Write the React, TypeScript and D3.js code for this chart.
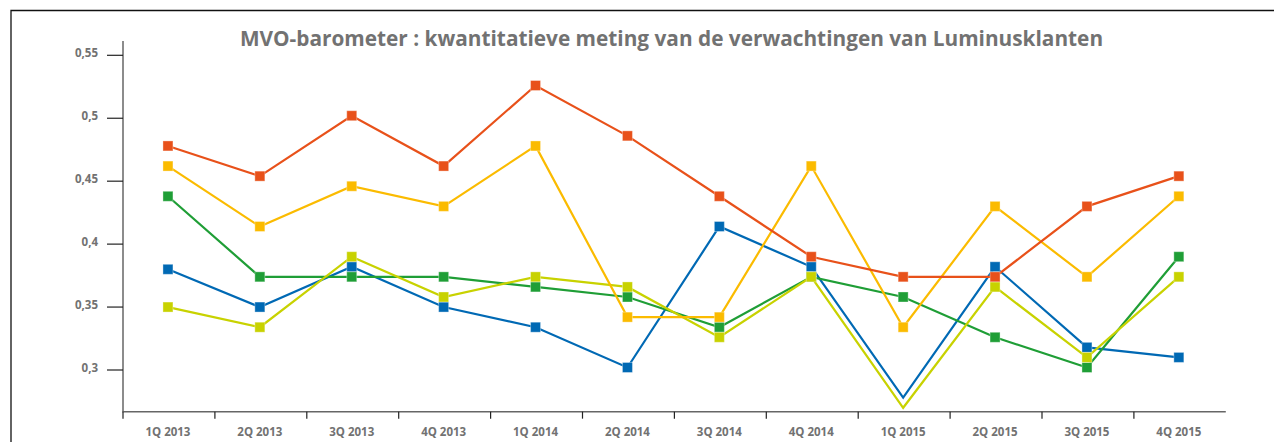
import React from "react";
import * as d3 from "d3";

const title = "MVO-barometer : kwantitatieve meting van de verwachtingen van Luminusklanten";
const categories = ["1Q 2013","2Q 2013","3Q 2013","4Q 2013","1Q 2014","2Q 2014","3Q 2014","4Q 2014","1Q 2015","2Q 2015","3Q 2015","4Q 2015"];
const yTicks = [0.3, 0.35, 0.4, 0.45, 0.5, 0.55];

const blueValues = [0.38, 0.35, 0.382, 0.35, 0.334, 0.302, 0.414, 0.382, 0.278, 0.382, 0.318, 0.31];
const greenValues = [0.438, 0.374, 0.374, 0.374, 0.366, 0.358, 0.334, 0.374, 0.358, 0.326, 0.302, 0.39];
const limeValues = [0.35, 0.334, 0.39, 0.358, 0.374, 0.366, 0.326, 0.374, 0.27, 0.366, 0.31, 0.374];
const goldValues = [0.462, 0.414, 0.446, 0.43, 0.478, 0.342, 0.342, 0.462, 0.334, 0.43, 0.374, 0.438];
const orangeValues = [0.478, 0.454, 0.502, 0.462, 0.526, 0.486, 0.438, 0.39, 0.374, 0.374, 0.43, 0.454];

const series = [
  { name: "blue", color: "#0069b4", values: blueValues },
  { name: "green", color: "#1f9e36", values: greenValues },
  { name: "lime", color: "#c8d200", values: limeValues },
  { name: "gold", color: "#fbbb00", values: goldValues },
  { name: "orange", color: "#e8511a", values: orangeValues },
];

const W = 1274, H = 442;
const font = "'Open Sans', 'DejaVu Sans', sans-serif";
const grey = "#727272";

export default function App() {
  const x = d3.scaleBand<string>().domain(categories).range([123, 1225.8]);
  const y = d3.scaleLinear().domain([0.3, 0.55]).range([370, 55.3]);
  const axisTop = y(0.5614);
  const axisBottom = y(0.2669);
  const cx = (c: string) => (x(c) as number) + x.bandwidth() / 2 - 1;
  const line = d3.line<number>().x((_, i) => cx(categories[i])).y((v) => y(v));
  const ms = 10;

  return (
    <svg width={W} height={H} style={{ position: "absolute", left: 0, top: 0, background: "#fff" }}>
      <path d={`M11,${H} V10.5 H${W}`} fill="none" stroke="#111" strokeWidth={1.3} />
      <text x={671.5} y={45.5} textAnchor="middle" fontFamily={font} fontWeight="bold" fontSize={20.8} fill={grey}>{title}</text>

      {/* y axis */}
      <line x1={123} x2={123} y1={axisTop} y2={axisBottom} stroke="#666" strokeWidth={1.5} />
      {yTicks.map((t) => (
        <g key={t}>
          <line x1={107} x2={123} y1={y(t)} y2={y(t)} stroke="#222" strokeWidth={1.2} />
          <text x={98} y={y(t) + 2} textAnchor="end" fontFamily={font} fontWeight="bold" fontSize={11.5} fill={grey}>
            {d3.format("")(t).replace(".", ",")}
          </text>
        </g>
      ))}

      {/* x axis */}
      <line x1={122.3} x2={1225.8} y1={axisBottom} y2={axisBottom} stroke="#666" strokeWidth={1.5} />
      {categories.map((c) => (
        <g key={c}>
          <line x1={x(c)} x2={x(c)} y1={axisBottom} y2={axisBottom + 7} stroke="#222" strokeWidth={1.2} />
          <text x={cx(c)} y={435.5} textAnchor="middle" fontFamily={font} fontWeight="bold" fontSize={11.5} fill={grey}>{c}</text>
        </g>
      ))}

      {series.map((s) => (
        <g key={s.name}>
          <path d={line(s.values) || ""} fill="none" stroke={s.color} strokeWidth={2.2} strokeLinejoin="miter" />
          {s.values.map((v, i) =>
            v < 0.29 ? null : (
              <rect key={i} x={cx(categories[i]) - ms / 2} y={y(v) - ms / 2} width={ms} height={ms} fill={s.color} stroke="#fff" strokeOpacity={0.35} strokeWidth={1} />
            )
          )}
        </g>
      ))}
    </svg>
  );
}
